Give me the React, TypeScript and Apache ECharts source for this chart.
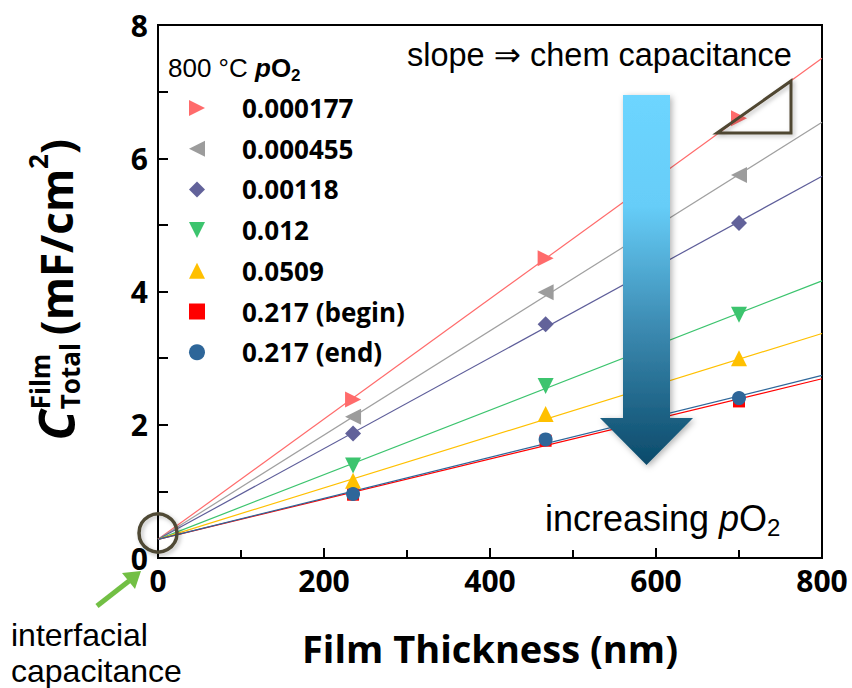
import React, { useEffect, useRef } from 'react';
import * as echarts from 'echarts';

// ---- data ----
const thickness = [235, 467, 700];
const seriesNames = ['0.000177', '0.000455', '0.00118', '0.012', '0.0509', '0.217 (begin)', '0.217 (end)'];
const c000177 = [2.38, 4.5, 6.6];
const c000455 = [2.12, 3.99, 5.75];
const c00118 = [1.87, 3.51, 5.03];
const c012 = [1.39, 2.58, 3.65];
const c0509 = [1.16, 2.16, 3.0];
const c217begin = [0.95, 1.76, 2.35];
const c217end = [0.96, 1.78, 2.4];
const seriesValues = [c000177, c000455, c00118, c012, c0509, c217begin, c217end];
// linear fits: value at 0 nm and at 800 nm
const fitAt0 = [0.28, 0.28, 0.28, 0.28, 0.28, 0.28, 0.28];
const fitAt800 = [7.5, 6.54, 5.73, 4.16, 3.37, 2.69, 2.74];
const xTickLabels = [0, 200, 400, 600, 800];
const yTickLabels = [0, 2, 4, 6, 8];

const TRI_RIGHT = 'path://M0,0 L10,5 L0,10 Z';
const TRI_LEFT = 'path://M10,0 L0,5 L10,10 Z';
const TRI_DOWN = 'path://M0,0 L10,0 L5,10 Z';
const TRI_UP = 'path://M5,0 L10,10 L0,10 Z';
const markerSymbols = [TRI_RIGHT, TRI_LEFT, 'diamond', TRI_DOWN, TRI_UP, 'rect', 'circle'];
const markerSizes = [16, 16, 16, 16, 16, 12, 14];
const markerColors = ['#ff6b6b', '#9c9c9c', '#62629a', '#3cc46e', '#ffc000', '#ff0000', '#2e6699'];
const lineColors = ['#ff6b6b', '#a0a0a0', '#5e5e9a', '#3cc46e', '#ffc000', '#ff0000', '#2e6699'];

const BOLD = "'Open Sans', 'Noto Sans', sans-serif";
const ARIAL = "'Liberation Sans', Arial, 'DejaVu Sans', sans-serif";

function measure(text: string, font: string): number {
  const ctx = document.createElement('canvas').getContext('2d')!;
  ctx.font = font;
  return ctx.measureText(text).width;
}

function buildYTitle() {
  const fC = `italic bold 50px ${BOLD}`;
  const fS = `bold 26px ${BOLD}`;
  const fM = `bold 44px ${BOLD}`;
  const wC = measure('C', fC);
  const wS = Math.max(measure('Film', fS), measure('Total', fS));
  const wM = measure('(mF/cm', fM);
  const w2 = measure('2', fS);
  const wP = measure(')', fM);
  const total = wC + 1 + wS + 8 + wM + w2 + wP;
  let x = -total / 2;
  const items: any[] = [];
  const t = (text: string, font: string, xx: number, yy: number) =>
    items.push({ type: 'text', x: xx, y: yy, style: { text, font, fill: '#000', textVerticalAlign: 'middle' } });
  t('C', fC, x, 0);
  x += wC + 1;
  t('Film', fS, x, -16);
  t('Total', fS, x, 14);
  x += wS + 8;
  t('(mF/cm', fM, x, 0);
  x += wM;
  t('2', fS, x, -18);
  x += w2;
  t(')', fM, x, 0);
  return { type: 'group', x: 56, y: 290, rotation: Math.PI / 2, children: items };
}

export default function App() {
  const ref = useRef<HTMLDivElement>(null);
  useEffect(() => {
    document.body.style.margin = '0';
    const chart = echarts.init(ref.current!, null, { renderer: 'svg' });

    const fitSeries = seriesNames.map((n, i) => ({
      name: 'fit ' + n,
      type: 'line',
      data: [[xTickLabels[0], fitAt0[i]], [xTickLabels[xTickLabels.length - 1], fitAt800[i]]],
      symbol: 'none',
      silent: true,
      z: 2,
      lineStyle: { color: lineColors[i], width: 1.2 },
    }));
    const scatterSeries = seriesNames.map((n, i) => ({
      name: n,
      type: 'scatter',
      data: thickness.map((t, j) => [t, seriesValues[i][j]]),
      symbol: markerSymbols[i],
      symbolSize: markerSizes[i],
      itemStyle: { color: markerColors[i], opacity: 1 },
      z: 5,
    }));

    const option = {
      animation: false,
      backgroundColor: '#fff',
      grid: { left: 158, right: 30, top: 25, bottom: 130, show: true, borderColor: '#000', borderWidth: 2, outerBoundsMode: 'none' },
      xAxis: {
        type: 'value',
        min: xTickLabels[0],
        max: xTickLabels[xTickLabels.length - 1],
        interval: 200,
        axisLine: { lineStyle: { color: '#000', width: 2 } },
        axisTick: { inside: true, length: 10, lineStyle: { color: '#000', width: 2 } },
        minorTick: { show: true, splitNumber: 2, length: 8, lineStyle: { color: '#000', width: 2 } },
        splitLine: { show: false },
        axisLabel: { color: '#000', fontFamily: BOLD, fontWeight: 'bold', fontSize: 30, margin: 7 },
      },
      yAxis: {
        type: 'value',
        min: yTickLabels[0],
        max: yTickLabels[yTickLabels.length - 1],
        interval: 2,
        axisLine: { lineStyle: { color: '#000', width: 2 } },
        axisTick: { inside: true, length: 10, lineStyle: { color: '#000', width: 2 } },
        minorTick: { show: true, splitNumber: 2, length: 10, lineStyle: { color: '#000', width: 2 } },
        splitLine: { show: false },
        axisLabel: { color: '#000', fontFamily: BOLD, fontWeight: 'bold', fontSize: 30, margin: 10 },
      },
      legend: {
        data: seriesNames.map((n, i) => ({ name: n, icon: markerSymbols[i] })),
        orient: 'vertical',
        left: 184,
        top: 90,
        itemWidth: 16,
        itemHeight: 16,
        itemGap: 14.7,
        selectedMode: false,
        textStyle: { fontFamily: BOLD, fontWeight: 'bold', fontSize: 26, color: '#000', lineHeight: 26, padding: [0, 0, 0, 32] },
      },
      series: [...fitSeries, ...scatterSeries],
      graphic: [
        buildYTitle(),
        {
          type: 'text', x: 490, y: 648,
          style: { text: 'Film Thickness (nm)', font: `bold 38px ${BOLD}`, fill: '#000', textAlign: 'center', textVerticalAlign: 'middle' },
        },
        {
          type: 'text', x: 168, y: 68,
          style: {
            text: '{a|800 °C }{b|p}{c|O}{d|2}',
            textVerticalAlign: 'middle',
            rich: {
              a: { fontFamily: ARIAL, fontSize: 26, fill: '#000', lineHeight: 32 },
              b: { fontFamily: ARIAL, fontSize: 26, fontStyle: 'italic', fontWeight: 'bold', fill: '#000', lineHeight: 32 },
              c: { fontFamily: ARIAL, fontSize: 26, fontWeight: 'bold', fill: '#000', lineHeight: 32 },
              d: { fontFamily: ARIAL, fontSize: 17, fontWeight: 'bold', fill: '#000', lineHeight: 14, verticalAlign: 'bottom' },
            },
          },
        },
        {
          type: 'text', x: 407, y: 55,
          style: { text: 'slope ⇒ chem capacitance', font: `32.5px ${ARIAL}`, fill: '#000', textVerticalAlign: 'middle' },
        },
        {
          type: 'text', x: 545, y: 518,
          style: {
            text: '{a|increasing }{b|p}{a|O}{d|2}',
            textVerticalAlign: 'middle',
            rich: {
              a: { fontFamily: ARIAL, fontSize: 36, fill: '#000', lineHeight: 42 },
              b: { fontFamily: ARIAL, fontSize: 36, fontStyle: 'italic', fill: '#000', lineHeight: 42 },
              d: { fontFamily: ARIAL, fontSize: 24, fill: '#000', lineHeight: 18, verticalAlign: 'bottom' },
            },
          },
        },
        {
          type: 'text', x: 11, y: 617,
          style: { text: 'interfacial\ncapacitance', font: `32px ${ARIAL}`, fill: '#000', lineHeight: 36 },
        },
        // big gradient arrow
        {
          type: 'polygon',
          shape: { points: [[623, 95], [670, 95], [670, 418], [693, 418], [646.5, 465], [600, 418], [623, 418]] },
          style: {
            fill: new echarts.graphic.LinearGradient(0, 0, 0, 1, [
              { offset: 0, color: '#6dd5ff' },
              { offset: 0.3, color: '#66cdf8' },
              { offset: 0.62, color: '#3d8cb3' },
              { offset: 1, color: '#0b4a6a' },
            ]),
            shadowBlur: 6, shadowColor: 'rgba(0,0,0,0.3)', shadowOffsetX: 2, shadowOffsetY: 2,
          },
          z: 10,
        },
        // slope triangle
        {
          type: 'polygon',
          shape: { points: [[717, 133], [791, 81], [791, 133]] },
          style: { fill: 'none', stroke: '#4f4630', lineWidth: 3, shadowBlur: 4, shadowColor: 'rgba(0,0,0,0.25)', shadowOffsetX: 2, shadowOffsetY: 2 },
          z: 10,
        },
        // circle at origin
        {
          type: 'circle',
          shape: { cx: 158, cy: 533, r: 19 },
          style: { fill: 'none', stroke: '#4f4a35', lineWidth: 3.5, shadowBlur: 4, shadowColor: 'rgba(0,0,0,0.25)', shadowOffsetX: 2, shadowOffsetY: 2 },
          z: 10,
        },
        // green arrow
        {
          type: 'line',
          shape: { x1: 97, y1: 606, x2: 129, y2: 581 },
          style: { stroke: '#72bf44', lineWidth: 5 },
          z: 10,
        },
        {
          type: 'polygon',
          shape: { points: [[141, 571], [135, 589], [122, 573]] },
          style: { fill: '#72bf44' },
          z: 10,
        },
      ],
    };
    chart.setOption(option as any);
    return () => chart.dispose();
  }, []);
  return <div ref={ref} style={{ position: 'absolute', left: 0, top: 0, width: 852, height: 688 }} />;
}
